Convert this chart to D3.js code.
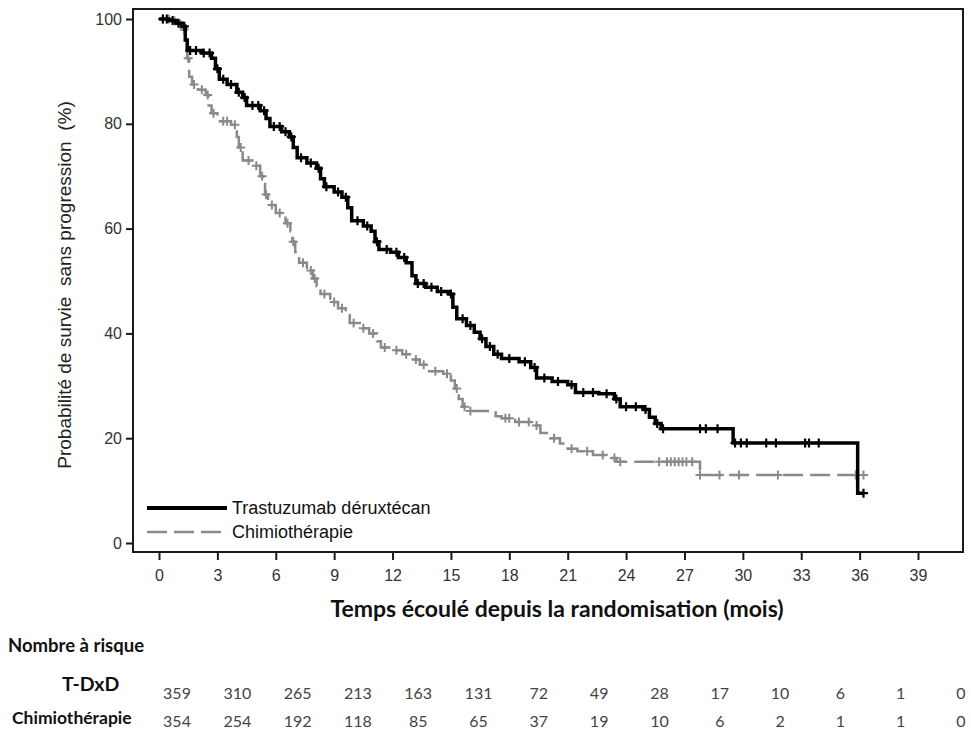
<!DOCTYPE html>
<html>
<head>
<meta charset="utf-8">
<script src="https://cdn.jsdelivr.net/npm/d3@7"></script>
<style>
  html, body { margin: 0; padding: 0; background: #fff; }
  svg { display: block; }
</style>
</head>
<body>
<script>
// ---------------- DATA ----------------
const xTicks = [0, 3, 6, 9, 12, 15, 18, 21, 24, 27, 30, 33, 36, 39];
const yTicks = [0, 20, 40, 60, 80, 100];

const seriesNames = ["Trastuzumab déruxtécan", "Chimiothérapie"];

// Kaplan-Meier steps: [month, survival % after the step]
const tdxdSteps = [
  [0,100],[0.5,99.7],[0.9,99.2],[1.2,98.6],[1.35,96],[1.45,94],[2.2,93.5],[2.7,92.5],[2.9,90.5],
  [3.1,88.5],[3.5,87.5],[4.0,86],[4.3,85],[4.5,83.5],[5.2,82.5],[5.5,81],[5.7,79.5],[6.3,78.5],
  [6.7,77.5],[6.9,75.5],[7.1,73.5],[7.6,72.5],[8.1,71.5],[8.3,69.5],[8.5,68],[9.0,67],[9.4,66],
  [9.7,64],[9.9,61.5],[10.5,60.5],[10.9,59.5],[11.1,57.5],[11.3,56],[11.9,55.5],[12.3,54.5],
  [12.7,53.5],[13.0,51],[13.2,49.5],[13.7,48.8],[14.3,48],[14.9,47.5],[15.1,45],[15.3,42.8],
  [15.8,41.5],[16.2,40.2],[16.5,39],[16.8,37.5],[17.2,36],[17.6,35.2],[18.5,34.6],[19.1,33.5],
  [19.4,31.5],[20.2,30.8],[21.0,30.2],[21.4,28.7],[22.6,28.5],[23.4,27.5],[23.7,26],[24.9,25.5],
  [25.2,24],[25.5,22.8],[25.8,21.8],[29.5,19.1],[35.9,9.5]
];
const tdxdEnd = 36.2;
const tdxdCensored = [
  0.2,0.4,0.7,1.0,1.3,1.6,1.9,2.3,2.6,3.0,3.3,3.7,4.1,4.4,4.8,5.1,5.4,5.9,6.2,6.5,6.8,7.3,7.8,8.2,
  8.6,9.2,9.6,10.2,10.7,11.2,11.7,12.2,12.6,13.3,13.6,14.0,14.5,15.0,15.6,16.0,16.6,17.0,17.4,18.0,
  18.8,19.3,19.8,20.5,21.2,21.8,22.3,23.0,23.5,24.0,24.5,25.0,25.6,25.9,27.8,28.1,28.7,29.6,29.9,
  30.2,31.2,31.7,33.2,33.4,33.9,36.2
];

const chemoSteps = [
  [0,100],[0.6,99.6],[1.0,99],[1.2,98],[1.35,95],[1.45,92.5],[1.55,89],[1.7,87.5],[2.0,86.5],
  [2.4,85.5],[2.55,83.5],[2.7,82],[3.0,80.5],[3.7,79.8],[4.0,77.5],[4.1,75.5],[4.3,73],[4.8,72],
  [5.2,70],[5.35,68.5],[5.45,66.5],[5.6,64.5],[6.0,63],[6.5,61],[6.75,59.5],[6.85,57.5],[7.0,55.5],
  [7.2,53.5],[7.6,52],[7.9,50.5],[8.1,49],[8.3,47.5],[8.8,46],[9.2,44.8],[9.6,43.5],[9.8,42],
  [10.4,41],[10.8,40],[11.2,38.5],[11.4,37.3],[12.0,36.8],[12.5,36],[12.9,35],[13.4,34],[13.8,32.8],
  [14.6,32.3],[15.0,31],[15.2,29.5],[15.4,27.5],[15.6,26],[15.8,25.2],[17.3,24.2],[17.6,23.8],
  [18.3,23.1],[19.2,22.4],[19.6,21],[20.1,20],[20.6,19],[21.0,18],[21.5,17.5],[22.3,16.8],
  [23.0,16.2],[23.5,15.5],[27.8,13]
];
const chemoEnd = 36.2;
const chemoCensored = [
  0.2,0.5,0.8,1.1,1.3,1.5,1.8,2.2,2.5,2.8,3.3,3.5,3.9,4.2,4.6,5.0,5.3,5.5,5.8,6.2,6.6,6.9,7.4,7.8,
  8.0,8.5,9.0,9.4,10.0,10.5,11.0,11.6,12.2,12.7,13.2,13.6,14.2,14.8,15.3,15.7,16.0,17.8,18.0,18.5,
  19.0,19.4,20.3,21.2,22.0,22.8,23.4,23.7,25.7,26.1,26.3,26.5,26.7,26.9,27.1,27.4,27.8,28.8,29.8,
  31.8,35.8,36.2
];

const riskLabels = ["T-DxD", "Chimiothérapie"];
const riskTdxd  = [359, 310, 265, 213, 163, 131, 72, 49, 28, 17, 10, 6, 1, 0];
const riskChemo = [354, 254, 192, 118, 85, 65, 37, 19, 10, 6, 2, 1, 1, 0];

// ---------------- DRAWING ----------------
const W = 971, H = 729;
const frame = { left: 133, top: 9, right: 963, bottom: 552 };

const svg = d3.select("body").append("svg").attr("width", W).attr("height", H);
svg.append("rect").attr("width", W).attr("height", H).attr("fill", "#fff");

const x = d3.scaleLinear().domain([0, 39]).range([159, 918]);
const y = d3.scaleLinear().domain([0, 100]).range([543, 19]);

// Frame
svg.append("rect")
  .attr("x", frame.left).attr("y", frame.top)
  .attr("width", frame.right - frame.left).attr("height", frame.bottom - frame.top)
  .attr("fill", "none").attr("stroke", "#1a1a1a").attr("stroke-width", 2);

// Axes
const xAxis = svg.append("g").attr("transform", `translate(0,${frame.bottom})`)
  .call(d3.axisBottom(x).tickValues(xTicks).tickSize(8).tickPadding(10));
const yAxis = svg.append("g").attr("transform", `translate(${frame.left},0)`)
  .call(d3.axisLeft(y).tickValues(yTicks).tickSize(7).tickPadding(4));
[xAxis, yAxis].forEach(a => {
  a.select(".domain").remove();
  a.selectAll(".tick line").attr("stroke", "#1a1a1a").attr("stroke-width", 2);
  a.selectAll(".tick text").attr("font-family", "'Liberation Sans', Arial, sans-serif")
    .attr("font-size", 16).attr("fill", "#333");
});

// Axis titles
svg.append("text")
  .attr("transform", "translate(64,285) rotate(-90)")
  .attr("text-anchor", "middle").attr("dominant-baseline", "central")
  .attr("font-family", "'Liberation Sans', Arial, sans-serif").attr("font-size", 19)
  .attr("fill", "#222").style("white-space", "pre")
  .text("Probabilité de survie  sans progression  (%)");

svg.append("text")
  .attr("x", 557).attr("y", 608)
  .attr("text-anchor", "middle").attr("dominant-baseline", "central")
  .attr("font-family", "Lato, 'Open Sans', sans-serif").attr("font-weight", "bold")
  .attr("font-size", 23).attr("fill", "#111")
  .text("Temps écoulé depuis la randomisation (mois)");

// KM curves
const line = d3.line().x(d => x(d[0])).y(d => y(d[1])).curve(d3.curveStepAfter);
function survivalAt(steps, t) {
  let v = steps[0][1];
  for (const s of steps) { if (s[0] <= t) v = s[1]; else break; }
  return v;
}
const series = [
  { steps: tdxdSteps, end: tdxdEnd, cens: tdxdCensored, color: "#000", width: 3.5, dash: null, cw: 2.2 },
  { steps: chemoSteps, end: chemoEnd, cens: chemoCensored, color: "#8a8a8a", width: 2.5, dash: "20,7", cw: 2 }
];
[series[1], series[0]].forEach(s => {
  const pts = s.steps.concat([[s.end, s.steps[s.steps.length - 1][1]]]);
  svg.append("path").datum(pts).attr("d", line)
    .attr("fill", "none").attr("stroke", s.color).attr("stroke-width", s.width)
    .attr("stroke-dasharray", s.dash);
  const r = 4.5;
  svg.append("g").selectAll("path").data(s.cens).join("path")
    .attr("d", t => {
      const cx = x(t), cy = y(survivalAt(s.steps, t));
      return `M${cx - r},${cy}H${cx + r}M${cx},${cy - r}V${cy + r}`;
    })
    .attr("stroke", s.color).attr("stroke-width", s.cw).attr("fill", "none");
});

// Legend
const legend = svg.append("g");
seriesNames.forEach((name, i) => {
  const s = series[i];
  const ly = 508 + i * 24;
  legend.append("line").attr("x1", 147).attr("x2", 227).attr("y1", ly).attr("y2", ly)
    .attr("stroke", s.color).attr("stroke-width", i === 0 ? 4 : 2.5).attr("stroke-dasharray", s.dash);
  legend.append("text").attr("x", 232).attr("y", ly).attr("dominant-baseline", "central")
    .attr("font-family", "'Liberation Sans', Arial, sans-serif").attr("font-size", 18)
    .attr("fill", "#111").text(name);
});

// Number at risk table
svg.append("text").attr("x", 8).attr("y", 645).attr("dominant-baseline", "central")
  .attr("font-family", "Lato, 'Open Sans', sans-serif").attr("font-weight", "bold")
  .attr("font-size", 18.5).attr("fill", "#111").text("Nombre à risque");

svg.append("text").attr("x", 62).attr("y", 683).attr("dominant-baseline", "central")
  .attr("font-family", "Lato, 'Open Sans', sans-serif").attr("font-weight", "bold")
  .attr("font-size", 19.5).attr("fill", "#111").text(riskLabels[0]);
svg.append("text").attr("x", 12).attr("y", 717).attr("dominant-baseline", "central")
  .attr("font-family", "Lato, 'Open Sans', sans-serif").attr("font-weight", "bold")
  .attr("font-size", 17.5).attr("fill", "#111").text(riskLabels[1]);

const risk = d3.scaleLinear().domain([0, 39]).range([177, 961]);
[[riskTdxd, 692], [riskChemo, 720]].forEach(([vals, ry]) => {
  svg.append("g").selectAll("text").data(vals).join("text")
    .attr("x", (d, i) => risk(xTicks[i])).attr("y", ry)
    .attr("text-anchor", "middle").attr("dominant-baseline", "central")
    .attr("font-family", "Lato, 'Open Sans', sans-serif").attr("font-size", 16)
    .attr("fill", "#444").text(d => d);
});
</script>
</body>
</html>
